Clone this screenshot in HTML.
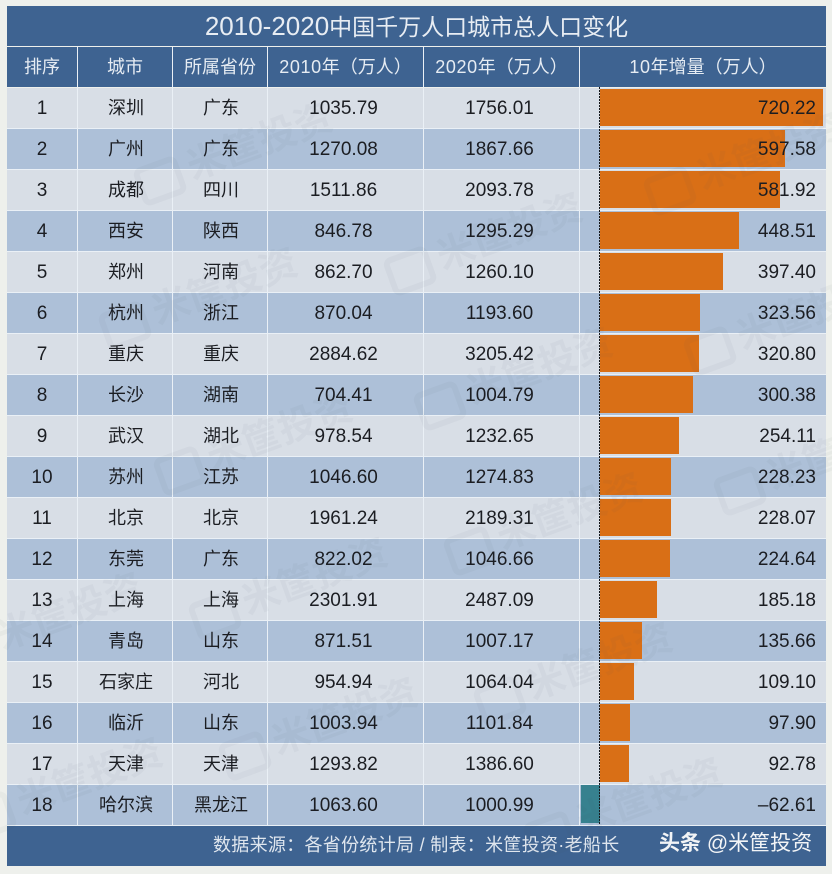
<!DOCTYPE html>
<html lang="zh">
<head>
<meta charset="utf-8">
<title>2010-2020中国千万人口城市总人口变化</title>
<style>
html,body{margin:0;padding:0;background:#eef0ec;}
#page{position:relative;width:832px;height:874px;overflow:hidden;background:#eef0ec;font-family:"Liberation Sans","Noto Sans CJK SC",sans-serif;}
.abs{position:absolute;}
.band{position:absolute;left:7px;width:819px;background:#3e6391;}
.cell{position:absolute;text-align:center;white-space:nowrap;color:#1b1d22;font-size:19px;line-height:42px;height:40px;}
.cjk{font-size:18px;line-height:40px;}
.head{color:#e6ecf3;font-size:18px;line-height:40px;height:40px;top:47px;}
.val{position:absolute;left:600px;width:216px;text-align:right;color:#1b1d22;font-size:19px;line-height:42px;height:40px;}
.vline{position:absolute;width:1px;top:47px;height:779px;background:#eaf0f6;}
.wm{position:absolute;color:#46525f;opacity:.04;font-size:38px;font-weight:bold;transform:rotate(-20deg);white-space:nowrap;pointer-events:none;}
.wm i{display:inline-block;width:46px;height:40px;margin-right:8px;border:6px solid #46525f;border-radius:8px;box-sizing:border-box;vertical-align:middle;}
</style>
</head>
<body>
<div id="page">
  <div class="band" style="top:6px;height:40px;"></div>
  <div class="abs" style="left:7px;width:819px;top:6px;height:40px;line-height:40px;text-align:center;color:#e8edf3;font-size:23px;"><span style="font-size:26px;">2010-2020</span>中国千万人口城市总人口变化</div>
  <div class="band" style="top:47px;height:40px;"></div>
  <div class="cell head" style="left:7px;width:70px;">排序</div>
  <div class="cell head" style="left:78px;width:94px;">城市</div>
  <div class="cell head" style="left:173px;width:94px;font-size:18px;">所属省份</div>
  <div class="cell head" style="left:268px;width:155px;"><span style="letter-spacing:.6px">2010</span>年（万人）</div>
  <div class="cell head" style="left:424px;width:155px;"><span style="letter-spacing:.6px">2020</span>年（万人）</div>
  <div class="cell head" style="left:580px;width:246px;"><span style="letter-spacing:.6px">10</span>年增量（万人）</div>
  <div id="rows"></div>
  <div class="vline" style="left:77px;"></div>
  <div class="vline" style="left:172px;"></div>
  <div class="vline" style="left:267px;"></div>
  <div class="vline" style="left:423px;"></div>
  <div class="vline" style="left:579px;"></div>
  <svg class="abs" style="left:0;top:0;" width="832" height="874">
    <line x1="599.5" y1="87" x2="599.5" y2="825" stroke="#15181c" stroke-width="1" stroke-dasharray="2 1"></line>
  </svg>
  <div class="band" style="top:826px;height:40px;"></div>
  <div class="abs" style="left:213px;top:826px;height:38px;line-height:38px;color:#dfe6ee;font-size:18px;letter-spacing:.3px;white-space:nowrap;">数据来源：各省份统计局 / 制表：米筐投资·老船长</div>
  <div class="abs" style="left:659px;top:824px;height:40px;line-height:40px;color:#f2f4f6;font-size:21px;white-space:nowrap;"><b>头条</b> @米筐投资</div>
  <div class="wm" style="left:380px;top:210px;"><i></i>米筐投资</div>
  <div class="wm" style="left:130px;top:120px;"><i></i>米筐投资</div>
  <div class="wm" style="left:640px;top:130px;"><i></i>米筐投资</div>
  <div class="wm" style="left:95px;top:265px;"><i></i>米筐投资</div>
  <div class="wm" style="left:410px;top:345px;"><i></i>米筐投资</div>
  <div class="wm" style="left:680px;top:290px;"><i></i>米筐投资</div>
  <div class="wm" style="left:150px;top:410px;"><i></i>米筐投资</div>
  <div class="wm" style="left:440px;top:490px;"><i></i>米筐投资</div>
  <div class="wm" style="left:710px;top:430px;"><i></i>米筐投资</div>
  <div class="wm" style="left:185px;top:555px;"><i></i>米筐投资</div>
  <div class="wm" style="left:470px;top:640px;"><i></i>米筐投资</div>
  <div class="wm" style="left:-60px;top:590px;"><i></i>米筐投资</div>
  <div class="wm" style="left:215px;top:695px;"><i></i>米筐投资</div>
  <div class="wm" style="left:-40px;top:755px;"><i></i>米筐投资</div>
  <div class="wm" style="left:520px;top:775px;"><i></i>米筐投资</div>
</div>
<script>
const cities = ["深圳","广州","成都","西安","郑州","杭州","重庆","长沙","武汉","苏州","北京","东莞","上海","青岛","石家庄","临沂","天津","哈尔滨"];
const provinces = ["广东","广东","四川","陕西","河南","浙江","重庆","湖南","湖北","江苏","北京","广东","上海","山东","河北","山东","天津","黑龙江"];
const pop2010 = ["1035.79","1270.08","1511.86","846.78","862.70","870.04","2884.62","704.41","978.54","1046.60","1961.24","822.02","2301.91","871.51","954.94","1003.94","1293.82","1063.60"];
const pop2020 = ["1756.01","1867.66","2093.78","1295.29","1260.10","1193.60","3205.42","1004.79","1232.65","1274.83","2189.31","1046.66","2487.09","1007.17","1064.04","1101.84","1386.60","1000.99"];
const growth = [720.22,597.58,581.92,448.51,397.40,323.56,320.80,300.38,254.11,228.23,228.07,224.64,185.18,135.66,109.10,97.90,92.78,-62.61];

const rowTop = 88;
const rowStep = 41;
const zeroX = 600;
const pxPerUnit = 0.3095;
function yOf(i) { return rowTop + i * rowStep; }
function xOf(v) { return zeroX + v * pxPerUnit; }
function formatGrowth(v) { return v < 0 ? "–" + Math.abs(v).toFixed(2) : v.toFixed(2); }

const host = document.getElementById("rows");
function addCell(cls, left, width, top, text) {
  const el = document.createElement("div");
  el.className = cls;
  el.style.left = left + "px";
  el.style.width = width + "px";
  el.style.top = top + "px";
  el.textContent = text;
  host.appendChild(el);
  return el;
}
cities.forEach(function (city, i) {
  const top = yOf(i);

  const row = document.createElement("div");
  row.className = "abs";
  row.style.cssText = "left:7px;width:819px;top:" + top + "px;height:40px;background:" + (i % 2 === 0 ? "#d8dee6" : "#adc0d8") + ";";
  
  
  host.appendChild(row);

  const sep = document.createElement("div");
  sep.className = "abs";
  sep.style.cssText = "left:7px;width:819px;top:" + (top + 40) + "px;height:1px;background:#eaf0f6;";
  
  
  host.appendChild(sep);

  const v = growth[i];
  const x0 = xOf(Math.min(v, 0));
  const x1 = xOf(Math.max(v, 0));
  const bar = document.createElement("div");
  bar.className = "abs";
  bar.style.left = x0 + "px";
  bar.style.width = (x1 - x0) + "px";
  bar.style.top = (top + (v < 0 ? 0 : 1)) + "px";
  bar.style.height = (v < 0 ? 38 : 37) + "px";
  bar.style.background = v < 0 ? "#37818f" : "#d96f16";
  
  
  host.appendChild(bar);

  const rank = addCell("cell", 7, 70, top, String(i + 1));
  
  

  const cityCell = addCell("cell cjk", 79, 94, top, city);
  
  

  const prov = addCell("cell cjk", 174, 94, top, provinces[i]);
  
  

  const a = addCell("cell", 266, 155, top, pop2010[i]);
  
  

  const b = addCell("cell", 422, 155, top, pop2020[i]);
  
  

  const val = document.createElement("div");
  val.className = "val";
  val.style.top = top + "px";
  val.textContent = formatGrowth(v);
  
  
  host.appendChild(val);
});
</script>
</body>
</html>
